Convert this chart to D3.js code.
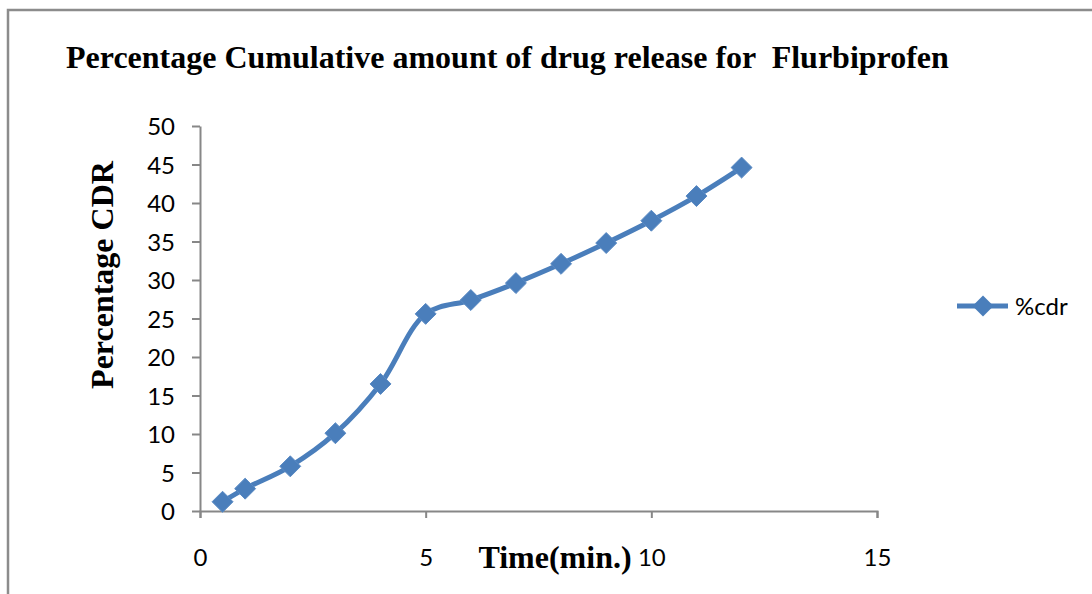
<!DOCTYPE html>
<html>
<head>
<meta charset="utf-8">
<script src="https://cdn.jsdelivr.net/npm/d3@7"></script>
<style>
  body { margin: 0; background: #fff; }
  svg { display: block; }
</style>
</head>
<body>
<div id="chart"></div>
<script>
// data
const times = [0.5, 1, 2, 3, 4, 5, 6, 7, 8, 9, 10, 11, 12];
const cdr = [1.2, 2.9, 5.8, 10.1, 16.5, 25.6, 27.4, 29.6, 32.1, 34.8, 37.7, 40.9, 44.6];
const xTicks = [0, 5, 10, 15];
const yTicks = [0, 5, 10, 15, 20, 25, 30, 35, 40, 45, 50];
const seriesName = '%cdr';

const width = 1092, height = 594;
const margin = { top: 126, right: 215, bottom: 83, left: 200 };
const blue = '#4a7ebb', axisGrey = '#878787';
const sans = 'Lato, "Open Sans", sans-serif';
const serif = '"Liberation Serif", "Times New Roman", serif';

const svg = d3.select('#chart').append('svg')
    .attr('width', width)
    .attr('height', height);

// outer chart frame (runs off the right and bottom of the picture)
svg.append('rect')
    .attr('x', 8).attr('y', 10)
    .attr('width', 1100).attr('height', 600)
    .attr('fill', 'none')
    .attr('stroke', '#8c8c8c')
    .attr('stroke-width', 2.5);

const x = d3.scaleLinear([0, 15], [margin.left, width - margin.right]);
const y = d3.scaleLinear([0, 50], [height - margin.bottom, margin.top]);

// axes
const axisX = svg.append('g')
    .attr('transform', `translate(0, ${y(0)})`)
    .call(d3.axisBottom(x).tickValues(xTicks).tickSize(7).tickSizeOuter(7).tickPadding(31));
const axisY = svg.append('g')
    .attr('transform', `translate(${x(0)}, 0)`)
    .call(d3.axisLeft(y).tickValues(yTicks).tickSize(8).tickSizeOuter(0).tickPadding(17));

[axisX, axisY].forEach(g => {
    g.select('.domain').attr('stroke', axisGrey).attr('stroke-width', 2);
    g.selectAll('.tick line').attr('stroke', axisGrey).attr('stroke-width', 2);
    g.selectAll('.tick text')
        .attr('fill', '#000')
        .style('font-family', sans)
        .style('font-size', '24px');
});
axisY.selectAll('.tick text').attr('dy', '0.36em');

// titles
svg.append('text')
    .attr('x', 66).attr('y', 68)
    .style('font-family', serif)
    .style('font-weight', 'bold')
    .style('font-size', '32px')
    .style('white-space', 'pre')
    .text('Percentage Cumulative amount of drug release for  Flurbiprofen');

svg.append('text')
    .attr('transform', `translate(113, 275) rotate(-90)`)
    .attr('text-anchor', 'middle')
    .style('font-family', serif)
    .style('font-weight', 'bold')
    .style('font-size', '32px')
    .text('Percentage CDR');

svg.append('text')
    .attr('x', 555).attr('y', 568)
    .attr('text-anchor', 'middle')
    .style('font-family', serif)
    .style('font-weight', 'bold')
    .style('font-size', '32px')
    .text('Time(min.)');

// series
const points = times.map((t, i) => ({ t, v: cdr[i] }));
const line = d3.line()
    .x(d => x(d.t))
    .y(d => y(d.v))
    .curve(d3.curveCatmullRom.alpha(0.5));

svg.append('path')
    .datum(points)
    .attr('d', line)
    .attr('fill', 'none')
    .attr('stroke', blue)
    .attr('stroke-width', 5)
    .attr('stroke-linejoin', 'round');

const diamond = d3.symbol().type(d3.symbolDiamond2).size(280);
svg.selectAll('path.marker')
    .data(points)
    .join('path')
    .classed('marker', true)
    .attr('transform', d => `translate(${x(d.t)}, ${y(d.v)})`)
    .attr('d', diamond)
    .attr('fill', blue)
    .attr('stroke', '#5a8ac4')
    .attr('stroke-width', 1);

// legend
const legend = svg.append('g').attr('transform', 'translate(957, 306)');
legend.append('line')
    .attr('x1', 0).attr('x2', 51)
    .attr('stroke', blue).attr('stroke-width', 5);
legend.append('path')
    .attr('transform', 'translate(26, 0)')
    .attr('d', diamond)
    .attr('fill', blue);
legend.append('text')
    .attr('x', 58).attr('dy', '0.36em')
    .style('font-family', sans)
    .style('font-size', '24px')
    .text(seriesName);
</script>
</body>
</html>
